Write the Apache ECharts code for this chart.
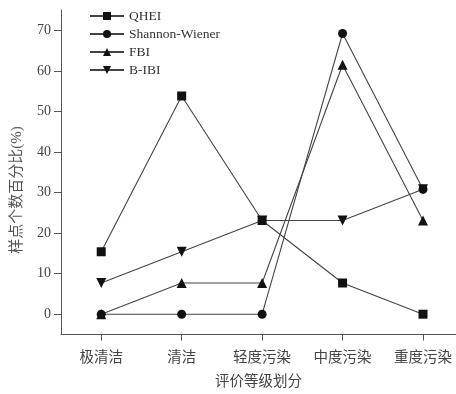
<!DOCTYPE html>
<html><head><meta charset="utf-8">
<script src="https://cdn.jsdelivr.net/npm/echarts@6/dist/echarts.min.js"></script>
<style>html,body{margin:0;padding:0;background:#fff}#c{width:456px;height:394px}</style>
</head><body><div id="c"></div>
<script>
var categories = ['极清洁', '清洁', '轻度污染', '中度污染', '重度污染'];
var qhei = [15.4, 53.8, 23.1, 7.7, 0];
var shannon = [0, 0, 0, 69.2, 30.8];
var fbi = [0, 7.7, 7.7, 61.5, 23.1];
var bibi = [7.7, 15.4, 23.1, 23.1, 30.8];
var yTicks = [0, 10, 20, 30, 40, 50, 60, 70];
var seriesNames = ['QHEI', 'Shannon-Wiener', 'FBI', 'B-IBI'];

var serifFont = '"Liberation Serif", "Noto Sans CJK SC", serif';
var txtColor = '#444';
function pts(arr) { return arr.map(function (v, i) { return [i, v]; }); }
var symbols = ['rect', 'circle', 'triangle', 'path://M0,0 L10,0 L5,10 Z'];
var sizes = [9, 9, 10, 10];
var datas = [qhei, shannon, fbi, bibi];

var chart = echarts.init(document.getElementById('c'));
chart.setOption({
  animation: false,
  backgroundColor: '#fff',
  grid: { left: 61, right: 0, top: 10, bottom: 59 },
  legend: {
    orient: 'vertical', left: 84, top: 4,
    itemWidth: 34, itemHeight: 10, itemGap: 4,
    textStyle: { fontFamily: serifFont, fontSize: 13.5, color: '#333', lineHeight: 14 },
    data: seriesNames
  },
  xAxis: {
    type: 'value', min: -0.5, max: 4.41,
    axisLine: { onZero: false, lineStyle: { color: '#555', width: 1 } },
    axisTick: { customValues: [0, 1, 2, 3, 4], length: 6, lineStyle: { color: '#555' } },
    axisLabel: {
      customValues: [0, 1, 2, 3, 4], margin: 16,
      formatter: function (v) { return categories[Math.round(v)]; },
      fontFamily: serifFont, fontSize: 14.5, color: txtColor
    },
    splitLine: { show: false },
    name: '评价等级划分', nameLocation: 'middle', nameGap: 40,
    nameTextStyle: { fontFamily: serifFont, fontSize: 14.5, color: txtColor }
  },
  yAxis: {
    type: 'value', min: -5, max: 75,
    axisLine: { show: true, onZero: false, lineStyle: { color: '#555', width: 1 } },
    axisTick: { show: true, customValues: yTicks, length: 7, lineStyle: { color: '#555' } },
    axisLabel: { customValues: yTicks, margin: 10, fontFamily: serifFont, fontSize: 14, color: txtColor },
    splitLine: { show: false }
  },
  graphic: [{
    type: 'text', x: 17, y: 190, rotation: Math.PI / 2,
    style: { text: '样点个数百分比(%)', fontFamily: serifFont, fontSize: 15, fill: '#555', align: 'center', verticalAlign: 'middle' }
  }],
  series: seriesNames.map(function (n, k) {
    return {
      name: n, type: 'line', data: pts(datas[k]),
      symbol: symbols[k], symbolSize: sizes[k], showAllSymbol: true,
      lineStyle: { color: '#444', width: 1.1 },
      itemStyle: { color: '#111', borderWidth: 0 },
      emphasis: { disabled: true }
    };
  })
});
</script></body></html>
